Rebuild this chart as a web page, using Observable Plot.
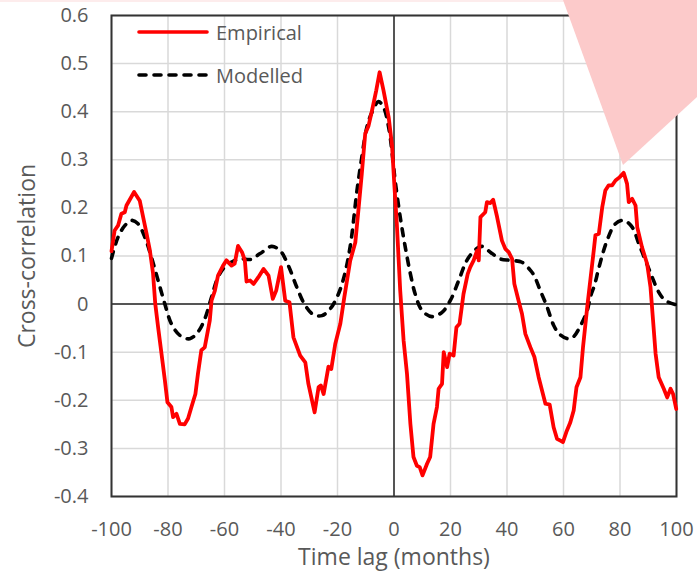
<!DOCTYPE html>
<html>
<head>
<meta charset="utf-8">
<script src="https://cdn.jsdelivr.net/npm/d3@7"></script>
<script src="https://cdn.jsdelivr.net/npm/@observablehq/plot@0.6"></script>
<style>
  html, body { margin: 0; padding: 0; background: #fff; }
  #wrap { position: relative; width: 697px; height: 573px; overflow: hidden; font-family: "Open Sans", sans-serif; }
  #overlay { position: absolute; left: 0; top: 0; pointer-events: none; }
</style>
</head>
<body>
<div id="wrap"></div>
<script>
// ---- Data ----
const seriesNames = ["Empirical", "Modelled"];

const empiricalLag = [-100,-98.9,-97.7,-96.5,-95.3,-94.7,-92,-90,-88.8,-87.6,-86.4,-85.3,-84.5,-83.5,-82.3,-81.1,-80.2,-78.8,-78.2,-77,-75.8,-74.1,-72.9,-71.7,-70.3,-69.4,-68.2,-67,-66.1,-65.2,-64.6,-63.4,-62.3,-60.5,-59.3,-57.5,-56.4,-55.2,-53.8,-52.8,-52.2,-50.9,-49.7,-48,-46.2,-44.4,-42.9,-41.7,-40,-38.5,-37,-35.6,-33.2,-31.4,-30.3,-28.1,-26.7,-25.9,-24.9,-23.2,-22.2,-20.8,-19,-17.6,-15.5,-13.7,-12.5,-11.4,-10.2,-9,-7.8,-6.3,-5.1,-3.7,-1.9,-0.7,0.1,1,2.2,3.4,4.6,5.8,6.9,8.1,9.1,10.1,11.7,12.8,14,15.2,15.8,17,17.6,18.8,19.7,21.1,22.1,23.2,24.6,26.1,27,28.2,29.4,30,30.6,32.3,32.9,34.1,35.1,36.5,38.2,39.4,40.6,41.8,42.6,44.1,45.3,46.5,48.3,49.7,51.2,53.6,55.1,56.5,57.7,58.9,59.8,61,62.4,63.6,64.6,66,66.9,68.4,69.5,70.7,71.3,72.5,73.7,74.8,76,77.2,78.4,79.9,81.3,82.5,83.1,84.3,85.5,86.1,87.8,89.6,90.8,91.7,92.6,93.7,95.5,96.7,97.9,98.8,99.9];
const empiricalValue = [0.11,0.153,0.163,0.188,0.191,0.205,0.233,0.215,0.181,0.147,0.111,0.064,0.0,-0.048,-0.103,-0.159,-0.204,-0.214,-0.235,-0.228,-0.249,-0.25,-0.238,-0.214,-0.187,-0.145,-0.096,-0.09,-0.062,-0.034,0.007,0.028,0.059,0.08,0.091,0.08,0.084,0.121,0.108,0.091,0.047,0.049,0.042,0.056,0.073,0.059,0.011,0.028,0.077,0.007,0.004,-0.069,-0.107,-0.121,-0.166,-0.225,-0.173,-0.169,-0.187,-0.13,-0.135,-0.083,-0.041,0.014,0.09,0.128,0.201,0.271,0.354,0.371,0.402,0.444,0.482,0.444,0.389,0.33,0.25,0.167,0.028,-0.076,-0.145,-0.249,-0.318,-0.336,-0.339,-0.356,-0.332,-0.318,-0.249,-0.214,-0.176,-0.166,-0.1,-0.131,-0.103,-0.107,-0.048,-0.041,0.021,0.063,0.077,0.091,0.111,0.091,0.181,0.191,0.212,0.21,0.217,0.181,0.132,0.115,0.108,0.094,0.042,0.007,-0.02,-0.062,-0.09,-0.11,-0.152,-0.207,-0.209,-0.256,-0.28,-0.284,-0.287,-0.266,-0.246,-0.221,-0.173,-0.152,-0.09,-0.006,0.05,0.111,0.143,0.146,0.201,0.236,0.247,0.247,0.257,0.264,0.273,0.25,0.212,0.219,0.205,0.16,0.118,0.084,0.035,-0.034,-0.103,-0.152,-0.176,-0.194,-0.176,-0.187,-0.218];

const modelledLag = [-100,-97.7,-95.3,-93,-90.6,-88.2,-85.9,-83.5,-81.1,-78.8,-75.8,-72.3,-69.4,-67,-64.6,-62.3,-59.9,-57,-54,-50.7,-47.4,-43.3,-40.3,-37.4,-34.4,-31.4,-28.5,-25.5,-22.6,-20.2,-17.9,-15.5,-13.1,-11.4,-9.6,-7.8,-5.5,-3.7,-1.9,-0.4,0.4,2.2,4,5.8,7.5,9.9,13.4,17,19.9,22.9,25.8,28.8,31.2,34.1,37.6,41.2,45.3,48.3,49.7,51.8,54.2,56.5,58.5,61.5,63.5,66,68.4,69.5,71,72.5,75.4,78.4,81.3,84.3,86.7,89,91.4,93.7,96.1,99.6];
const modelledValue = [0.095,0.139,0.163,0.174,0.167,0.139,0.098,0.049,0.0,-0.041,-0.065,-0.072,-0.058,-0.031,0.014,0.056,0.077,0.089,0.094,0.093,0.105,0.12,0.111,0.08,0.035,-0.003,-0.022,-0.024,-0.01,0.014,0.052,0.12,0.236,0.305,0.368,0.399,0.421,0.409,0.368,0.3,0.257,0.181,0.118,0.063,0.021,-0.013,-0.026,-0.017,0.007,0.049,0.091,0.113,0.12,0.108,0.094,0.091,0.087,0.07,0.058,0.028,-0.006,-0.044,-0.062,-0.072,-0.068,-0.045,-0.013,0.015,0.04,0.075,0.132,0.167,0.174,0.16,0.125,0.091,0.056,0.025,0.007,-0.001];

const xTicks = [-100,-80,-60,-40,-20,0,20,40,60,80,100];
const yTicks = [-0.4,-0.3,-0.2,-0.1,0,0.1,0.2,0.3,0.4,0.5,0.6];
const xTitle = "Time lag (months)";
const yTitle = "Cross-correlation";

// ---- Build tables ----
const empirical = empiricalLag.map((x, i) => ({x, y: empiricalValue[i]}));
const modelled = modelledLag.map((x, i) => ({x, y: modelledValue[i]}));

const textColor = "#595959";
const fontSize = 20;
const titleSize = 23;
const fmtY = d => d === 0 ? "0" : d.toFixed(1);   // plain hyphen-minus like the reference

const chart = Plot.plot({
  width: 697,
  height: 573,
  marginLeft: 111,
  marginRight: 21,
  marginTop: 15,
  marginBottom: 77,
  style: {fontFamily: "'Open Sans', sans-serif", fontSize: fontSize + "px", color: textColor, background: "#fff", overflow: "visible"},
  x: {domain: [-100, 100]},
  y: {domain: [-0.4, 0.6]},
  marks: [
    Plot.gridX(xTicks, {stroke: "#d9d9d9", strokeOpacity: 1, strokeWidth: 1.5}),
    Plot.gridY(yTicks, {stroke: "#d9d9d9", strokeOpacity: 1, strokeWidth: 1.5}),
    Plot.ruleY([0], {stroke: "#262626", strokeWidth: 1.5}),
    Plot.ruleX([0], {stroke: "#262626", strokeWidth: 1.5}),
    Plot.frame({stroke: "#333", strokeWidth: 2}),
    Plot.line(modelled, {x: "x", y: "y", stroke: "#000", strokeWidth: 3.6, strokeDasharray: "7,8", strokeLinecap: "round", curve: "catmull-rom"}),
    Plot.line(empirical, {x: "x", y: "y", stroke: "#ff0000", strokeWidth: 3.8, strokeLinejoin: "round"}),
    Plot.axisX(xTicks, {tickSize: 0, tickPadding: 25, label: null, fill: textColor, tickFormat: d => String(d)}),
    Plot.axisY(yTicks, {tickSize: 0, tickPadding: 23, label: null, fill: textColor, tickFormat: fmtY}),
    Plot.text([xTitle], {frameAnchor: "bottom", lineAnchor: "middle", textAnchor: "middle", dy: 61, fill: textColor, fontSize: titleSize, text: d => d, letterSpacing: 0.8}),
    Plot.text([yTitle], {frameAnchor: "left", lineAnchor: "middle", textAnchor: "middle", dx: -84, rotate: -90, fill: textColor, fontSize: titleSize, text: d => d, letterSpacing: 0.8})
  ]
});

const wrap = document.getElementById("wrap");
wrap.appendChild(chart);

// ---- Overlay: legend and the pink callout shape ----
const ns = "http://www.w3.org/2000/svg";
const ov = document.createElementNS(ns, "svg");
ov.setAttribute("id", "overlay");
ov.setAttribute("width", 697);
ov.setAttribute("height", 573);

function el(tag, attrs, text) {
  const e = document.createElementNS(ns, tag);
  for (const k in attrs) e.setAttribute(k, attrs[k]);
  if (text) e.textContent = text;
  ov.appendChild(e);
  return e;
}
// faint top strip and pink callout
el("rect", {x: 0, y: 0, width: 697, height: 2, fill: "#fdecec"});
el("polygon", {points: "563,0 697,0 697,97 623,165", fill: "#fccaca"});

// legend
const legendRows = [
  {name: seriesNames[0], y: 32, stroke: "#ff0000", dash: null},
  {name: seriesNames[1], y: 75, stroke: "#000", dash: "7,8"}
];
for (const r of legendRows) {
  const a = {x1: 139, x2: 207, y1: r.y, y2: r.y, stroke: r.stroke, "stroke-width": 3.6, "stroke-linecap": "round"};
  if (r.dash) a["stroke-dasharray"] = r.dash;
  el("line", a);
  el("text", {x: 216, y: r.y, "dominant-baseline": "central", fill: textColor, "font-size": fontSize, "font-family": "'Open Sans', sans-serif"}, r.name);
}
wrap.appendChild(ov);
</script>
</body>
</html>
